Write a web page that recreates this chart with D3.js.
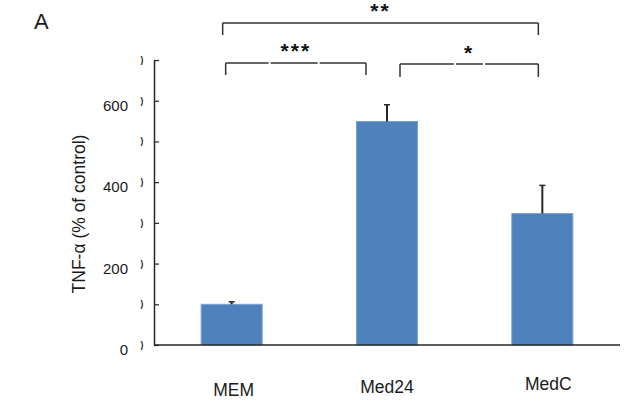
<!DOCTYPE html>
<html lang="en">
<head>
    <meta charset="UTF-8">
    <title>TNF-alpha</title>
    <style>
        body { margin: 0; background: #fff; }
        text { font-family: "Liberation Sans", Arial, sans-serif; }
    </style>
</head>
<body>
<script src="https://d3js.org/d3.v7.min.js"></script>
<script>
    // data
    const categories = ["MEM", "Med24", "MedC"];
    const values = [100, 549, 323];
    const errors = [6, 41, 69];
    const yTicks = [0, 100, 200, 300, 400, 500, 600, 700];
    const yLabelTicks = [0, 200, 400, 600];
    const sigFrom = [0, 0, 1];
    const sigTo = [2, 1, 2];
    const sigLabels = ["**", "***", "*"];

    let w = 644, h = 403;
    let inner = {top: 60, right: 24, bottom: 58, left: 154};

    let svg = d3.select("body")
        .append("svg")
        .attr("width", w)
        .attr("height", h);

    let x = d3.scaleBand()
        .domain(categories)
        .range([inner.left, w - inner.right])
        .paddingInner(0.607)
        .paddingOuter(0.3035);

    let y = d3.scaleLinear()
        .domain([0, 700])
        .range([h - inner.bottom, inner.top]);

    // bars
    svg.selectAll("rect.bar")
        .data(values)
        .enter()
        .append("rect")
        .attr("class", "bar")
        .attr("x", (d, i) => x(categories[i]))
        .attr("y", d => y(d))
        .attr("width", x.bandwidth())
        .attr("height", d => y(0) - y(d))
        .attr("fill", "#4F81BD")
        .attr("stroke", "#7aa3d6")
        .attr("stroke-width", 1);

    // error bars
    let cx = i => x(categories[i]) + x.bandwidth() / 2;
    svg.selectAll("line.err")
        .data(values)
        .enter()
        .append("line")
        .attr("x1", (d, i) => cx(i))
        .attr("x2", (d, i) => cx(i))
        .attr("y1", d => y(d))
        .attr("y2", (d, i) => y(d + errors[i]))
        .attr("stroke", "#262626")
        .attr("stroke-width", 2);
    svg.selectAll("line.cap")
        .data(values)
        .enter()
        .append("line")
        .attr("x1", (d, i) => cx(i) - 3)
        .attr("x2", (d, i) => cx(i) + 3)
        .attr("y1", (d, i) => y(d + errors[i]))
        .attr("y2", (d, i) => y(d + errors[i]))
        .attr("stroke", "#262626")
        .attr("stroke-width", 1.5);

    // y axis, ticks point inwards
    let yAxis = svg.append("g")
        .attr("transform", "translate(" + inner.left + ",0)")
        .call(d3.axisLeft(y)
            .tickValues(yTicks)
            .tickSizeInner(-5)
            .tickSizeOuter(0)
            .tickPadding(26)
            .tickFormat(d => yLabelTicks.includes(d) ? d : ""));
    yAxis.select(".domain").attr("stroke", "#262626").attr("stroke-width", 1.5);
    yAxis.selectAll(".tick line").attr("stroke", "#262626").attr("stroke-width", 1.2);
    yAxis.selectAll(".tick text")
        .attr("dy", "0.65em")
        .style("font-size", "15px")
        .attr("fill", "#1a1a1a");

    // leftovers of clipped labels next to every tick
    svg.selectAll("text.stub")
        .data(yTicks)
        .enter()
        .append("text")
        .attr("x", inner.left - 12)
        .attr("y", d => y(d) + 3)
        .attr("text-anchor", "middle")
        .style("font-size", "8.5px")
        .style("font-weight", "bold")
        .attr("fill", "#222")
        .text(")");

    // x axis line
    svg.append("line")
        .attr("x1", inner.left)
        .attr("x2", w - inner.right)
        .attr("y1", y(0))
        .attr("y2", y(0))
        .attr("stroke", "#262626")
        .attr("stroke-width", 1.5);

    // category labels (slightly staggered like the original)
    const labelShift = [[2, 0], [0, -3], [6, -6]];
    svg.selectAll("text.cat")
        .data(categories)
        .enter()
        .append("text")
        .attr("x", (d, i) => cx(i) + labelShift[i][0])
        .attr("y", (d, i) => h - 7 + labelShift[i][1])
        .attr("text-anchor", "middle")
        .style("font-size", "17.5px")
        .attr("fill", "#1a1a1a")
        .text(d => d);

    // y title
    svg.append("text")
        .attr("transform", "translate(85," + 214 + ") rotate(-90)")
        .attr("text-anchor", "middle")
        .style("font-size", "17.5px")
        .attr("fill", "#1a1a1a")
        .text("TNF-\u03b1 (% of control)");

    // panel letter
    svg.append("text")
        .attr("x", 34)
        .attr("y", 29)
        .style("font-size", "22px")
        .attr("fill", "#1a1a1a")
        .text("A");

    // significance brackets
    const brY = [23, 63, 64];
    const legLen = [12, 12, 13];
    const endShift = [[-9, -4], [-6, -21], [13, -4]];
    const starY = [7, 47, 49];
    const breaks = [[], [44, 93], [55, 84]];

    sigLabels.forEach(function (lab, k) {
        let x1 = cx(sigFrom[k]) + endShift[k][0];
        let x2 = cx(sigTo[k]) + endShift[k][1];
        let g = svg.append("g");
        let pts = [x1].concat(breaks[k].map(b => x1 + b)).concat([x2]);
        for (let i = 0; i < pts.length - 1; ++i) {
            g.append("line")
                .attr("x1", pts[i] + (i > 0 ? 1 : 0))
                .attr("x2", pts[i + 1] - (i < pts.length - 2 ? 1 : 0))
                .attr("y1", brY[k])
                .attr("y2", brY[k])
                .attr("stroke", "#333")
                .attr("stroke-width", 1.5);
        }
        [x1, x2].forEach(function (xx) {
            g.append("line")
                .attr("x1", xx)
                .attr("x2", xx)
                .attr("y1", brY[k])
                .attr("y2", brY[k] + legLen[k])
                .attr("stroke", "#333")
                .attr("stroke-width", 1.5);
        });
        g.append("text")
            .attr("x", (x1 + x2) / 2)
            .attr("y", starY[k] + 11)
            .attr("text-anchor", "middle")
            .style("font-size", "21px")
            .style("font-weight", "bold")
            .style("letter-spacing", "2px")
            .attr("fill", "#111")
            .text(lab);
    });
</script>
</body>
</html>
